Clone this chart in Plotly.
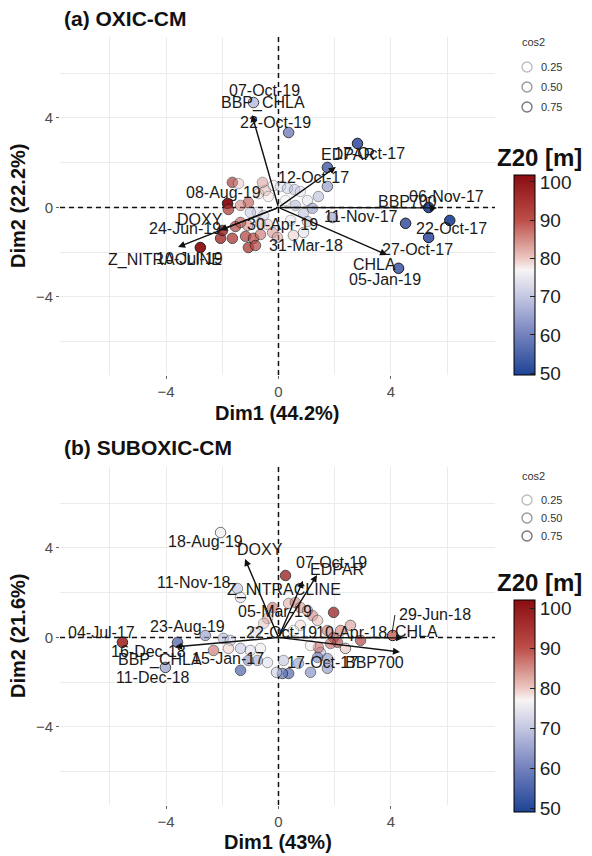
import plotly.graph_objects as go
import numpy as np

W, H = 592, 856
FONT = "Liberation Sans"

# ---------------- Panel (a) OXIC-CM : individuals ----------------
a_dim1 = [-0.89, 0.36, 2.81, 1.74, 1.74, 5.34, 1.92, 4.52, 6.09, 5.34, 4.27,
          -1.64, -1.42, -1.81, -1.78, -1.07, -0.71, -0.46, -0.18, 0.07, 0.32,
          0.57, 0.78, 1.03, 0.89, 1.03, -0.75, -0.53, -0.64, -0.39, -2.06,
          -1.64, -1.17, -0.89, -0.64, -1.07, -0.82, -0.21, -0.04, 0.53, 0.89,
          -2.78, -1.99, -1.53, -1.10, -1.00, -1.35, 0.25, 0.60, 1.21, 0.43,
          1.42, -0.57, -0.36, -1.35]
a_dim2 = [4.69, 3.35, 2.86, 1.79, 0.94, 0.00, -0.45, -0.71, -0.58, -1.34, -2.72,
          1.12, 1.07, 0.18, -0.09, 0.22, 0.62, 0.76, 0.98, 0.94, 0.85,
          0.80, 0.71, 0.31, -0.27, -0.63, -0.22, -0.36, -0.71, -0.76, -1.38,
          -1.38, -1.29, -1.38, -1.21, -1.79, -1.70, -1.12, -1.34, -1.25, -1.12,
          -1.79, -1.03, -0.85, -0.80, -0.22, 0.09, 0.31, 0.09, -0.04, -0.58,
          0.49, 1.12, 0.49, -0.67]
a_z20 = [68, 60, 55, 57, 64, 52, 66, 56, 52, 55, 57,
         96, 82, 101, 95, 90, 80, 84, 76, 70, 68,
         66, 70, 72, 64, 66, 70, 67, 85, 82, 96,
         94, 93, 91, 88, 94, 92, 86, 84, 80, 73,
         100, 98, 92, 86, 67, 88, 74, 62, 60, 72,
         66, 86, 79, 90]
a_cos2 = [0.60, 0.60, 0.80, 0.70, 0.50, 0.90, 0.50, 0.85, 0.90, 0.85, 0.85,
          0.45, 0.20, 0.75, 0.50, 0.40, 0.20, 0.20, 0.20, 0.15, 0.20,
          0.20, 0.15, 0.20, 0.20, 0.25, 0.15, 0.15, 0.20, 0.20, 0.60,
          0.55, 0.50, 0.50, 0.40, 0.55, 0.50, 0.30, 0.30, 0.30, 0.30,
          0.75, 0.60, 0.50, 0.35, 0.20, 0.30, 0.10, 0.20, 0.30, 0.15,
          0.30, 0.25, 0.15, 0.40]

# labels of individuals (text, dim1, dim2)
a_ind_text = ["07-Oct-19", "22-Oct-19", "17-Oct-17", "12-Oct-17", "08-Aug-19",
              "06-Nov-17", "11-Nov-17", "30-Apr-19", "24-Jun-19", "22-Oct-17",
              "31-Mar-18", "27-Oct-17", "10-Jul-19", "05-Jan-19"]
a_ind_x = [-0.48, -0.12, 3.25, 1.26, -1.94, 5.99, 2.93, 0.16, -3.32, 6.17,
           0.98, 4.96, -3.15, 3.79]
a_ind_y = [5.21, 3.82, 2.39, 1.36, 0.65, 0.51, -0.42, -0.74, -0.96, -0.96,
           -1.68, -1.90, -2.26, -3.20]

# variables (arrows)
a_var_names = ["BBP_CHLA", "EDPAR", "BBP700", "CHLA", "DOXY", "Z_NITRACLINE"]
a_var_x = [-0.94, 2.04, 5.64, 3.86, -2.08, -3.57]
a_var_y = [4.13, 1.81, -0.02, -2.12, -1.01, -1.77]
a_var_lab_x = [-0.55, 2.47, 4.60, 3.43, -2.79, -4.04]
a_var_lab_y = [4.67, 2.35, 0.25, -2.57, -0.56, -2.35]

# ---------------- Panel (b) SUBOXIC-CM : individuals ----------------
b_dim1 = [-2.06, -1.46, -1.35, 0.25, 0.36, 0.60, 0.78, 1.03, 1.21, 1.39,
          1.96, -0.39, -0.53, 1.74, 1.96, 2.21, 2.10, 2.38, 1.85, 1.49,
          1.39, 1.74, 1.42, 4.06, 0.36, 0.14, -0.07, 0.18, -1.96, -2.60,
          -2.31, -1.35, -1.00, -0.64, -1.07, -0.75, -1.35, -0.39, -3.59, -4.02,
          -5.55, -1.71, -1.78, 0.71, 1.74, 1.14, 0.78, 2.56, 2.92, 0.53,
          -0.21, -0.82, 1.14]
b_dim2 = [4.69, 2.19, 1.79, 2.77, 1.52, 1.56, 1.34, 1.21, 0.98, 0.76,
          1.12, 0.85, 0.63, 0.31, 0.00, 0.31, -0.22, -0.49, -0.27, -0.67,
          -0.89, -0.94, -0.45, 0.09, -1.61, -1.61, -1.56, -1.03, -0.04, 0.09,
          -0.58, -0.49, -0.58, -0.49, -1.03, -1.03, -1.47, -1.12, -0.22, -1.34,
          -0.22, -0.13, -0.49, -1.16, -1.38, -0.36, 0.54, 0.54, -0.13, 0.31,
          1.34, 0.22, -1.56]
b_z20 = [76, 68, 74, 97, 84, 88, 86, 84, 88, 82,
         98, 86, 83, 88, 92, 86, 95, 80, 90, 66,
         58, 60, 90, 86, 56, 58, 70, 66, 66, 64,
         88, 68, 72, 74, 60, 62, 55, 72, 57, 66,
         96, 70, 80, 60, 62, 78, 80, 84, 94, 76,
         92, 70, 60]
b_cos2 = [0.45, 0.35, 0.30, 0.60, 0.30, 0.30, 0.30, 0.30, 0.30, 0.30,
          0.55, 0.20, 0.20, 0.35, 0.40, 0.40, 0.40, 0.45, 0.35, 0.30,
          0.35, 0.35, 0.30, 0.80, 0.50, 0.50, 0.35, 0.25, 0.30, 0.45,
          0.40, 0.30, 0.25, 0.20, 0.35, 0.30, 0.50, 0.25, 0.60, 0.60,
          0.70, 0.25, 0.30, 0.30, 0.40, 0.20, 0.20, 0.40, 0.45, 0.15,
          0.30, 0.20, 0.40]

b_ind_text = ["18-Aug-19", "07-Oct-19", "11-Nov-18", "05-Mar-19", "29-Jun-18",
              "23-Aug-19", "04-Jul-17", "22-Oct-19", "10-Apr-18", "16-Dec-18",
              "15-Jan-17", "17-Oct-17", "11-Dec-18"]
b_ind_x = [-2.58, 1.87, -3.00, -0.12, 5.56, -3.25, -6.28, 0.12, 2.61, -4.64,
           -1.80, 1.55, -4.46]
b_ind_y = [4.27, 3.37, 2.44, 1.14, 1.01, 0.51, 0.20, 0.20, 0.20, -0.65,
           -0.96, -1.14, -1.81]
# repel segment for 29-Jun-18 (label -> point)
b_seg_x = [4.14, 4.04]
b_seg_y = [1.00, 0.20]

b_var_names = ["DOXY", "Z_NITRACLINE", "EDPAR", "CHLA", "BBP700", "BBP_CHLA"]
b_var_x = [-1.19, 0.87, 1.37, 4.43, 4.32, -3.68]
b_var_y = [3.51, 2.53, 2.79, -0.02, -0.65, -0.42]
b_var_lab_x = [-0.66, 0.20, 2.08, 4.92, 3.43, -4.21]
b_var_lab_y = [3.91, 2.12, 3.02, 0.25, -1.14, -1.01]

# axis / legend texts
titles = ["(a) OXIC-CM", "(b) SUBOXIC-CM"]
xtitles = ["Dim1 (44.2%)", "Dim1 (43%)"]
ytitles = ["Dim2 (22.2%)", "Dim2 (21.6%)"]
major_ticks = [-4, 0, 4]
minor_ticks = [-6, -2, 2, 6]
cos2_levels = ["0.25", "0.50", "0.75"]
cbar_ticks = [50, 60, 70, 80, 90, 100]
cbar_title = "Z20 [m]"

# colour stops in value space (diverging blue-white-red)
color_stops = [(49.0, "#1d4396"), (60, "#7381bd"), (70, "#c4c7e2"),
               (77, "#f7f4f4"), (80, "#ecc7c1"), (90, "#bd4e48"), (102.0, "#8a0d11")]


def colorscale(cmin, cmax):
    cs = []
    for v, c in color_stops:
        f = min(1.0, max(0.0, (v - cmin) / (cmax - cmin)))
        cs.append([f, c])
    cs[0][0] = 0.0
    cs[-1][0] = 1.0
    return cs


def px_x(p):
    return p / W


def px_y(p):
    return 1 - p / H


fig = go.Figure()

XR = [-7.77, 7.70]
YR = [-7.49, 7.62]


def add_points(xs, ys, z, cos2, xa, ya, cax):
    op = np.clip(0.15 + 1.1 * np.array(cos2), 0.15, 1.0)
    fig.add_trace(go.Scatter(
        x=xs, y=ys, mode="markers", xaxis=xa, yaxis=ya, showlegend=False,
        marker=dict(size=10.5, color=z, coloraxis=cax, opacity=op,
                    line=dict(color="#1a1a1a", width=1)),
        hoverinfo="skip"))


# dashed reference lines drawn as traces (below points)
for xa, ya in [("x", "y"), ("x2", "y2")]:
    fig.add_trace(go.Scatter(x=[0, 0], y=YR, mode="lines", xaxis=xa, yaxis=ya,
                             line=dict(color="#111", width=1.5, dash="5px,4px"),
                             showlegend=False, hoverinfo="skip"))
    fig.add_trace(go.Scatter(x=XR, y=[0, 0], mode="lines", xaxis=xa, yaxis=ya,
                             line=dict(color="#111", width=1.5, dash="5px,4px"),
                             showlegend=False, hoverinfo="skip"))

add_points(a_dim1, a_dim2, a_z20, a_cos2, "x", "y", "coloraxis")
add_points(b_dim1, b_dim2, b_z20, b_cos2, "x2", "y2", "coloraxis2")

# repel segment
fig.add_trace(go.Scatter(x=b_seg_x, y=b_seg_y, mode="lines", xaxis="x2", yaxis="y2",
                         line=dict(color="#222", width=1), showlegend=False,
                         hoverinfo="skip"))

# ---- axes ----
grid = "#ebebeb"


def axis(domain, rng, anchor):
    return dict(domain=domain, range=rng, anchor=anchor, tickmode="array",
                tickvals=major_ticks, showgrid=True, gridcolor=grid, gridwidth=1,
                zeroline=False, showline=False, ticks="outside", ticklen=3,
                tickcolor="#666", tickwidth=1,
                tickfont=dict(family=FONT, size=15, color="#4d4d4d"),
                minor=dict(tickmode="array", tickvals=minor_ticks, showgrid=True,
                           gridcolor=grid, gridwidth=1, ticks=""),
                fixedrange=True)


xdom = [px_x(60), px_x(495)]
fig.update_layout(
    xaxis=axis(xdom, XR, "y"),
    yaxis=axis([px_y(375), px_y(37)], YR, "x"),
    xaxis2=axis(xdom, XR, "y2"),
    yaxis2=axis([px_y(805), px_y(467)], YR, "x2"),
)

# colour axes
fig.update_layout(
    coloraxis=dict(cmin=49.5, cmax=101.8, colorscale=colorscale(49.5, 101.8),
                   colorbar=dict(x=px_x(514), xanchor="left", xpad=0,
                                 y=px_y(175), yanchor="top", ypad=0,
                                 len=200, lenmode="pixels", thickness=21,
                                 outlinecolor="black", outlinewidth=1,
                                 tickmode="array", tickvals=cbar_ticks,
                                 ticks="inside", ticklen=5, tickcolor="#222",
                                 tickfont=dict(family=FONT, size=19, color="#222"),
                                 title=dict(text=""))),
    coloraxis2=dict(cmin=49.0, cmax=102.0, colorscale=colorscale(49.0, 102.0),
                    colorbar=dict(x=px_x(514), xanchor="left", xpad=0,
                                  y=px_y(600), yanchor="top", ypad=0,
                                  len=212, lenmode="pixels", thickness=21,
                                  outlinecolor="black", outlinewidth=1,
                                  tickmode="array", tickvals=cbar_ticks,
                                  ticks="inside", ticklen=5, tickcolor="#222",
                                  tickfont=dict(family=FONT, size=19, color="#222"),
                                  title=dict(text=""))),
)

shapes = []
annotations = []

lab_font = dict(family=FONT, size=16, color="#1a1a1a")

# individual labels
for t, x, y in zip(a_ind_text, a_ind_x, a_ind_y):
    annotations.append(dict(x=x, y=y, xref="x", yref="y", text=t, showarrow=False,
                            font=lab_font))
for t, x, y in zip(b_ind_text, b_ind_x, b_ind_y):
    annotations.append(dict(x=x, y=y, xref="x2", yref="y2", text=t, showarrow=False,
                            font=lab_font))

# variable arrows + labels
for names, vx, vy, lx, ly, xa, ya in [
        (a_var_names, a_var_x, a_var_y, a_var_lab_x, a_var_lab_y, "x", "y"),
        (b_var_names, b_var_x, b_var_y, b_var_lab_x, b_var_lab_y, "x2", "y2")]:
    for n, x, y in zip(names, vx, vy):
        annotations.append(dict(x=x, y=y, ax=0, ay=0, xref=xa, yref=ya, axref=xa, ayref=ya,
                                text="", showarrow=True, arrowhead=2, arrowsize=1,
                                arrowwidth=1.4, arrowcolor="#111", standoff=0,
                                startstandoff=0))
    for n, x, y in zip(names, lx, ly):
        annotations.append(dict(x=x, y=y, xref=xa, yref=ya, text=n, showarrow=False,
                                font=lab_font))

# titles
for t, ypx in zip(titles, [19, 448]):
    annotations.append(dict(x=px_x(62), y=px_y(ypx), xref="paper", yref="paper",
                            xanchor="left", yanchor="middle", text="<b>%s</b>" % t,
                            showarrow=False, font=dict(family=FONT, size=21, color="#111")))
# axis titles
for t, ypx in zip(xtitles, [413, 842]):
    annotations.append(dict(x=px_x(277.5), y=px_y(ypx), xref="paper", yref="paper",
                            xanchor="center", yanchor="middle", text="<b>%s</b>" % t,
                            showarrow=False, font=dict(family=FONT, size=20, color="#111")))
for t, ypx in zip(ytitles, [206, 636]):
    annotations.append(dict(x=px_x(18), y=px_y(ypx), xref="paper", yref="paper",
                            xanchor="center", yanchor="middle", text="<b>%s</b>" % t,
                            textangle=-90, showarrow=False,
                            font=dict(family=FONT, size=20, color="#111")))

# colourbar titles
for ypx in [157, 582]:
    annotations.append(dict(x=px_x(495), y=px_y(ypx), xref="paper", yref="paper",
                            xanchor="left", yanchor="middle", text="<b>%s</b>" % cbar_title,
                            showarrow=False, font=dict(family=FONT, size=24, color="#111")))

# cos2 legends
legend_grays = ["#bdbdbd", "#9a9a9a", "#777777"]
for top, items in [(42, [67, 87, 107]), (476, [500, 518, 536])]:
    annotations.append(dict(x=px_x(520), y=px_y(top), xref="paper", yref="paper",
                            xanchor="left", yanchor="middle", text="cos2", showarrow=False,
                            font=dict(family=FONT, size=11, color="#333")))
    for lev, yy, g in zip(cos2_levels, items, legend_grays):
        r = 5
        shapes.append(dict(type="circle", xref="paper", yref="paper",
                           x0=px_x(527 - r), x1=px_x(527 + r),
                           y0=px_y(yy + r), y1=px_y(yy - r),
                           line=dict(color=g, width=1.4), fillcolor="white"))
        annotations.append(dict(x=px_x(539), y=px_y(yy), xref="paper", yref="paper",
                                xanchor="left", yanchor="middle", text=lev, showarrow=False,
                                font=dict(family=FONT, size=11, color="#333")))

fig.update_layout(
    width=W, height=H, margin=dict(l=0, r=0, t=0, b=0),
    paper_bgcolor="white", plot_bgcolor="white",
    shapes=shapes, annotations=annotations, showlegend=False,
    font=dict(family=FONT),
)

fig.write_html("out.html")
